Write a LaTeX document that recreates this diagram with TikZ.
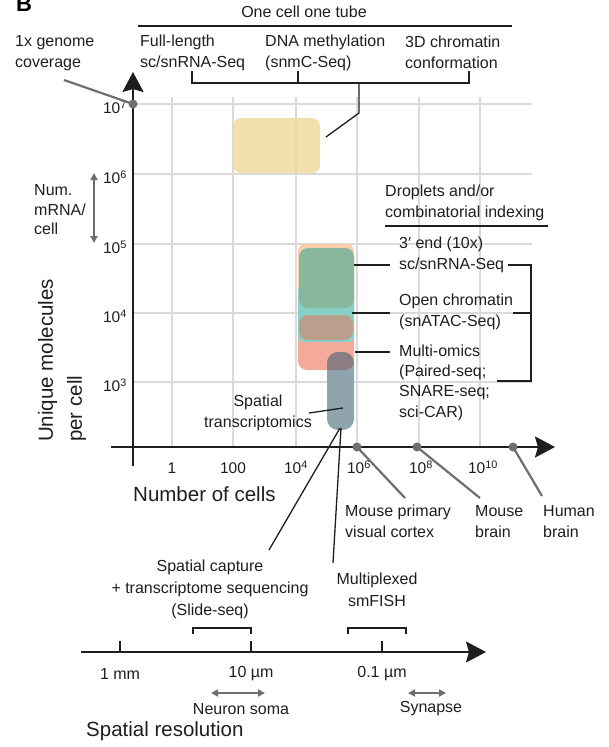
\documentclass[tikz,border=0pt]{standalone}
\usepackage{fontspec}
\setmainfont{Liberation Sans}
\usetikzlibrary{arrows.meta}
\definecolor{gridgray}{HTML}{DADADA}
\definecolor{ptrgray}{HTML}{6E6E6E}
\definecolor{inkblack}{HTML}{1E1E1E}
\definecolor{cyellow}{HTML}{F0D9A0}
\definecolor{cpeach}{HTML}{FBD0A8}
\definecolor{cgreen}{HTML}{88B79B}
\definecolor{cteal}{HTML}{86D0C8}
\definecolor{cbrown}{HTML}{BA9F8C}
\definecolor{csalmon}{HTML}{F3AA9A}
\definecolor{cblue}{HTML}{8FA4AC}
\definecolor{cmauve}{HTML}{8B7D83}
\begin{document}
\begin{tikzpicture}[x=1pt,y=-1pt,
  lbl/.style={font=\fontsize{16}{21}\selectfont, inner sep=0pt, align=left, text=inkblack},
  rlbl/.style={font=\fontsize{16}{20.4}\selectfont, inner sep=0pt, align=left, text=inkblack},
  ticklbl/.style={font=\fontsize{15.5}{18}\selectfont, inner sep=0pt, text=inkblack},
  big/.style={font=\fontsize{20.5}{29}\selectfont, inner sep=0pt, align=left, text=inkblack},
  gridline/.style={draw=gridgray, line width=1.5pt},
  axisline/.style={draw=inkblack, line width=2.5pt, -{Stealth[length=20pt,width=21pt,inset=3pt]}},
  ptr/.style={draw=ptrgray, line width=2.2pt},
  gdot/.style={circle, fill=ptrgray, inner sep=0pt, minimum size=9pt},
  conn/.style={draw=inkblack, line width=1.3pt},
  brk/.style={draw=inkblack, line width=1.6pt},
  garrow/.style={draw=ptrgray, line width=1.8pt, {Triangle[length=7pt,width=7pt]}-{Triangle[length=7pt,width=7pt]}},
  blob/.style={rounded corners=8pt}
]
\useasboundingbox (0,0) rectangle (608,747);

% panel letter (clipped at top)
\node[font=\bfseries\fontsize{22}{22}\selectfont, anchor=base west, inner sep=0pt] (letter) at (16,11) {B};

% grid
\foreach \gx in {172,233,296,357,419,480} \draw[gridline] (\gx,97) -- (\gx,447);
\foreach \gy in {104,174,244,313,382} \draw[gridline] (133,\gy) -- (532,\gy);

% one cell one tube
\node[lbl] (onecell) at (304,12) {One cell one tube};
\coordinate (ocl) at (138,26); \coordinate (ocr) at (512,26);
\draw[conn] (ocl) -- (ocr);
\node[lbl, anchor=west] (fl) at (140,52.5) {Full-length\\sc/snRNA-Seq};
\node[lbl, anchor=west] (dna) at (265,52.5) {DNA methylation\\(snmC-Seq)};
\node[lbl, anchor=west] (chr) at (405,52.5) {3D chromatin\\conformation};
\draw[conn] (192,71) -- (192,83) -- (469,83) -- (469,71);
\draw[conn] (298,71) -- (298,83);
\coordinate (ybox) at (326,137);
\draw[conn] (359,83) -- (359,113) -- (ybox);

% yellow box
\fill[cyellow, fill opacity=0.85, blob] (233,118) rectangle (320,173);

% droplet boxes
\fill[cpeach, rounded corners=7pt] (298,244) rectangle (354,300);
\fill[csalmon, rounded corners=9pt] (298,285) rectangle (354,370);
\fill[cteal, rounded corners=6pt] (298,285) rectangle (354,342);
\fill[cgreen, rounded corners=9pt] (299,248) rectangle (354,308);
\fill[cbrown, rounded corners=9pt] (299,315) rectangle (353,340);
\fill[cblue, rounded corners=11pt] (327,352) rectangle (354,430);
\begin{scope}
  \clip[rounded corners=9pt] (298,285) rectangle (354,370);
  \fill[cmauve, rounded corners=11pt] (327,352) rectangle (354,430);
\end{scope}

% axes
\draw[axisline] (133,466) -- (133,72);
\draw[axisline] (111,447) -- (555,447);

% y tick labels
\node[ticklbl, anchor=east] (y7) at (127,107) {10\textsuperscript{7}};
\node[ticklbl, anchor=east] (y6) at (127,177) {10\textsuperscript{6}};
\node[ticklbl, anchor=east] (y5) at (127,247) {10\textsuperscript{5}};
\node[ticklbl, anchor=east] (y4) at (127,316) {10\textsuperscript{4}};
\node[ticklbl, anchor=east] (y3) at (127,385) {10\textsuperscript{3}};

% x tick labels
\node[ticklbl] (x0) at (172,468) {1};
\node[ticklbl] (x2) at (233,468) {100};
\node[ticklbl] (x4) at (296,467) {10\textsuperscript{4}};
\node[ticklbl] (x6) at (359,467) {10\textsuperscript{6}};
\node[ticklbl] (x8) at (421,467) {10\textsuperscript{8}};
\node[ticklbl] (x10) at (483,467) {10\textsuperscript{10}};

% axis titles
\node[big, rotate=90, anchor=west] (ytitle) at (62,442) {Unique molecules\\per cell};
\node[big, anchor=west] (xtitle) at (133,494) {Number of cells};

% genome coverage
\node[lbl, anchor=west] (genome) at (15,53) {1x genome\\coverage};
\coordinate (genl) at (64,80);
\node[gdot] (d7) at (133,104) {};
\draw[ptr] (d7.center) -- (genl);

% num mRNA
\node[font=\fontsize{16}{19.5}\selectfont, inner sep=0pt, align=left, anchor=west, text=inkblack] (mrna) at (34,210) {Num.\\mRNA/\\cell};
\coordinate (mrt) at (94,173); \coordinate (mrb) at (94,243);
\draw[garrow] (mrt) -- (mrb);

% x-axis reference dots
\node[gdot] (dmv) at (357,447) {};
\node[gdot] (dmb) at (417,447) {};
\node[gdot] (dhb) at (513,447) {};
\node[lbl, anchor=west] (mv) at (345,521.5) {Mouse primary\\visual cortex};
\node[lbl, anchor=west] (mb) at (475,521.5) {Mouse\\brain};
\node[lbl, anchor=west] (hb) at (543,521.5) {Human\\brain};
\coordinate (mvl) at (405,498); \coordinate (mbl) at (480,498); \coordinate (hbl) at (542,496);
\draw[ptr] (dmv.center) -- (mvl);
\draw[ptr] (dmb.center) -- (mbl);
\draw[ptr] (dhb.center) -- (hbl);

% droplets header
\node[lbl, anchor=west] (drop) at (385,203) {Droplets and/or\\combinatorial indexing};
\coordinate (dul) at (385,226); \coordinate (dur) at (548,226);
\draw[conn] (dul) -- (dur);

% right labels
\node[rlbl, anchor=west] (tre) at (399,255) {3′ end (10x)\\sc/snRNA-Seq};
\node[rlbl, anchor=west] (oc) at (399,312) {Open chromatin\\(snATAC-Seq)};
\node[rlbl, anchor=west] (mo) at (399,382.5) {Multi-omics\\(Paired-seq;\\SNARE-seq;\\sci-CAR)};
\draw[conn] (354,265) -- (390,265);
\draw[conn] (352,313) -- (390,313);
\draw[conn] (355,352) -- (390,352);
\draw[conn] (508,265) -- (531,265) -- (531,381) -- (497,381);
\draw[conn] (513,313) -- (531,313);

% spatial transcriptomics
\node[lbl, align=center] (st) at (258,412.5) {Spatial\\transcriptomics};
\draw[conn] (309,413) -- (343,408);

% lines to bottom
\node[lbl, align=center, font=\fontsize{16}{22}\selectfont] (sc) at (210,589) {Spatial capture\\+ transcriptome sequencing\\(Slide-seq)};
\node[lbl, align=center, font=\fontsize{16}{22}\selectfont] (mf) at (377,590) {Multiplexed\\smFISH};
\coordinate (bl) at (340,428);
\draw[conn] (bl) -- (269,550);
\draw[conn] (341,428) -- (333,563);

% spatial resolution axis
\draw[brk] (193,634) -- (193,628) -- (251,628) -- (251,634);
\draw[brk] (348,634) -- (348,628) -- (406,628) -- (406,634);
\draw[axisline, line width=2.2pt] (81,652) -- (486,652);
\foreach \tx in {120,251,382} \draw[brk] (\tx,641) -- (\tx,652);
\node[lbl] (r1) at (120,674) {1 mm};
\node[lbl] (r2) at (251,674) {10 µm};
\node[lbl] (r3) at (382,674) {0.1 µm};
\coordinate (nsl) at (211,693); \coordinate (nsr) at (265,693);
\draw[garrow] (nsl) -- (nsr);
\coordinate (syl) at (408,693); \coordinate (syr) at (446,693);
\draw[garrow] (syl) -- (syr);
\node[lbl] (ns) at (241,709) {Neuron soma};
\node[lbl] (syn) at (431,709) {Synapse};
\node[big, anchor=west] (sres) at (86,731) {Spatial resolution};
\end{tikzpicture}
\end{document}
